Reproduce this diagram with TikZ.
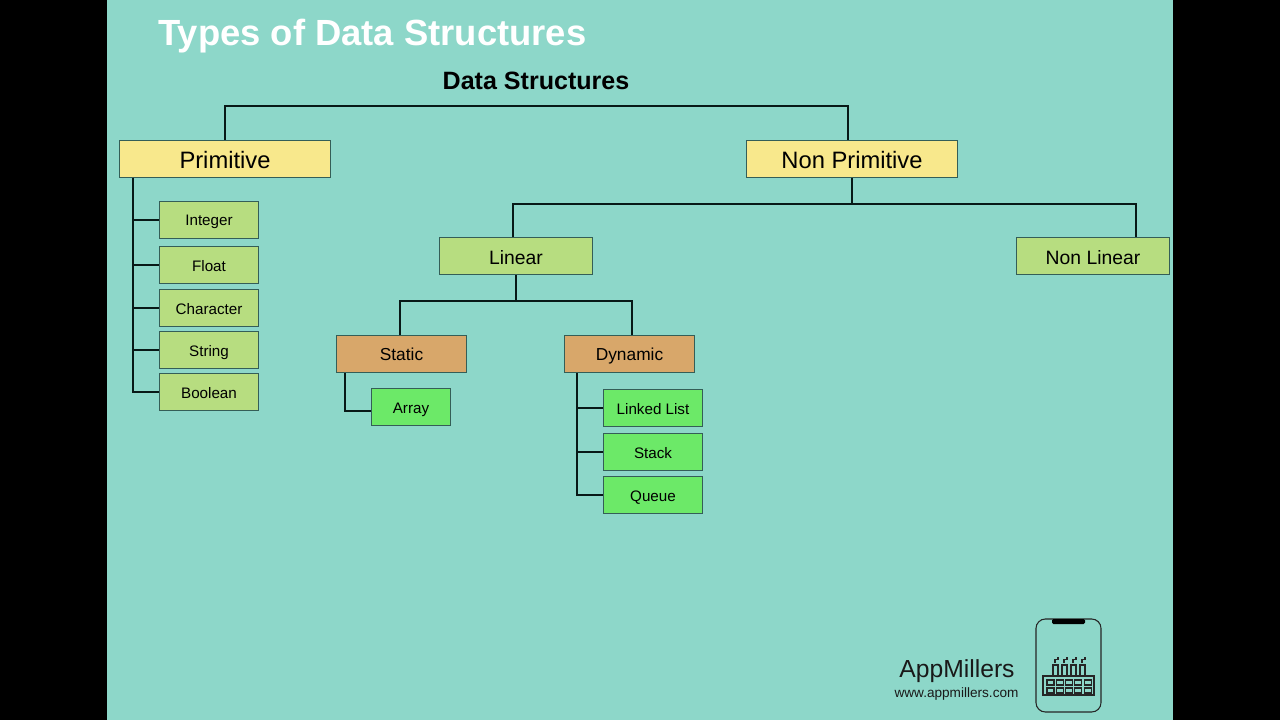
\documentclass[tikz,border=0pt]{standalone}
\usepackage{fontspec}
\setmainfont{Liberation Sans}
\definecolor{bgteal}{HTML}{8DD7C9}
\definecolor{yel}{HTML}{F8E88C}
\definecolor{lgreen}{HTML}{B7DD80}
\definecolor{tan}{HTML}{D8A76A}
\definecolor{bgreen}{HTML}{6CE968}
\definecolor{ln}{HTML}{0E2A26}
\tikzset{
 px/.style={x=0.75pt,y=-0.75pt},
 boxbase/.style={draw=ln!70!bgteal,line width=0.7pt,inner sep=0pt,align=center,text=black,text depth=0pt},
 prim/.style={boxbase,fill=yel,minimum width=158.6pt,minimum height=28.2pt,text height=13.6pt,font=\fontsize{17.8}{18}\selectfont},
 lvl/.style={boxbase,fill=lgreen,minimum width=115.1pt,minimum height=28.2pt,text height=12.5pt,font=\fontsize{14.5}{16}\selectfont},
 kind/.style={boxbase,fill=tan,minimum width=98.1pt,minimum height=28.2pt,text height=9.8pt,font=\fontsize{13}{14}\selectfont},
 leafa/.style={boxbase,fill=lgreen,minimum width=74.6pt,minimum height=28.2pt,text height=9pt,font=\fontsize{11.4}{12}\selectfont},
 leafb/.style={boxbase,fill=bgreen,minimum width=74.6pt,minimum height=28.2pt,text height=9pt,font=\fontsize{11.4}{12}\selectfont},
 arraybox/.style={leafb,minimum width=59.6pt},
 conn/.style={draw=ln!60!black,line width=1.2pt},
 icon/.style={draw=black!85,line width=0.8pt},
}
\begin{document}
\begin{tikzpicture}[px]
\useasboundingbox (0,0) rectangle (1280,720);
\fill[black] (0,0) rectangle (1280,720);
\fill[bgteal] (107,0) rectangle (1173,720);
\node[font=\bfseries\fontsize{27.3}{30}\selectfont,text=white,anchor=base west,inner sep=0pt] (title) at (158,46) {Types of Data Structures};
\node[font=\bfseries\fontsize{18.8}{20}\selectfont,text=black,inner sep=0pt] (root) at (536,80.5) {Data Structures};
\node[prim] (p) at (225,159) {Primitive};
\node[prim] (np) at (852,159) {Non Primitive};
\node[lvl] (lin) at (516,256) {Linear};
\node[lvl] (nl) at (1093,256) {Non Linear};
\node[kind] (st) at (401.5,354) {Static};
\node[kind] (dy) at (629.5,354) {Dynamic};
\node[leafa] (i) at (209,220) {Integer};
\node[leafa] (f) at (209,265) {Float};
\node[leafa] (c) at (209,308) {Character};
\node[leafa] (s) at (209,350) {String};
\node[leafa] (b) at (209,392) {Boolean};
\node[arraybox] (a) at (411,407) {Array};
\node[leafb] (ll) at (653,408) {Linked List};
\node[leafb] (sk) at (653,452) {Stack};
\node[leafb] (q) at (653,495) {Queue};
\coordinate (t1) at (225,106);
\coordinate (t2) at (848,106);
\coordinate (t3) at (848,140);
\coordinate (n1) at (513,204);
\coordinate (n2) at (1136,204);
\coordinate (n3) at (513,237);
\coordinate (n4) at (1136,237);
\coordinate (l1) at (400,301);
\coordinate (l2) at (632,301);
\coordinate (l3) at (400,335);
\coordinate (l4) at (632,335);
\coordinate (ptrunk) at (133,178);
\coordinate (strunk) at (345,373);
\coordinate (dtrunk) at (577,373);
\draw[conn] (p.north) -- (t1) -- (t2) -- (t3);
\draw[conn] (np.south) -- (np.south |- n1);
\draw[conn] (n3) -- (n1) -- (n2) -- (n4);
\draw[conn] (lin.south) -- (lin.south |- l1);
\draw[conn] (l3) -- (l1) -- (l2) -- (l4);
\draw[conn] (ptrunk) |- (i.west);
\draw[conn] (ptrunk) |- (f.west);
\draw[conn] (ptrunk) |- (c.west);
\draw[conn] (ptrunk) |- (s.west);
\draw[conn] (ptrunk) |- (b.west);
\draw[conn] (strunk) |- ([yshift=-3pt]a.west);
\draw[conn] (dtrunk) |- (ll.west);
\draw[conn] (dtrunk) |- (sk.west);
\draw[conn] (dtrunk) |- (q.west);
\node[font=\fontsize{18.5}{20}\selectfont,text=black!90,inner sep=0pt,anchor=base] (brand) at (957,677) {AppMillers};
\node[font=\fontsize{10.2}{12}\selectfont,text=black!90,inner sep=0pt,anchor=base] (url) at (956.5,697) {www.appmillers.com};
% phone
\draw[icon,rounded corners=7pt] (1036,619) rectangle (1101,712);
\fill[black,rounded corners=1pt] (1052,619) rectangle (1085,624);
% factory
\draw[icon] (1043,676) rectangle (1094,695);
\foreach \x in {1047,1056.3,1065.6,1074.9,1084.2}{
 \draw[icon] (\x,680) rectangle ++(7,5);
 \draw[icon] (\x,688) rectangle ++(7,5);
}
\foreach \x in {1053,1062,1071,1080}{
 \draw[icon] (\x,676) -- (\x,665) -- (\x+5,665) -- (\x+5,676);
 \draw[icon] (\x+2,663) -- (\x+2,659.5) -- (\x+5,659.5) -- (\x+5,657);
}
\end{tikzpicture}
\end{document}
